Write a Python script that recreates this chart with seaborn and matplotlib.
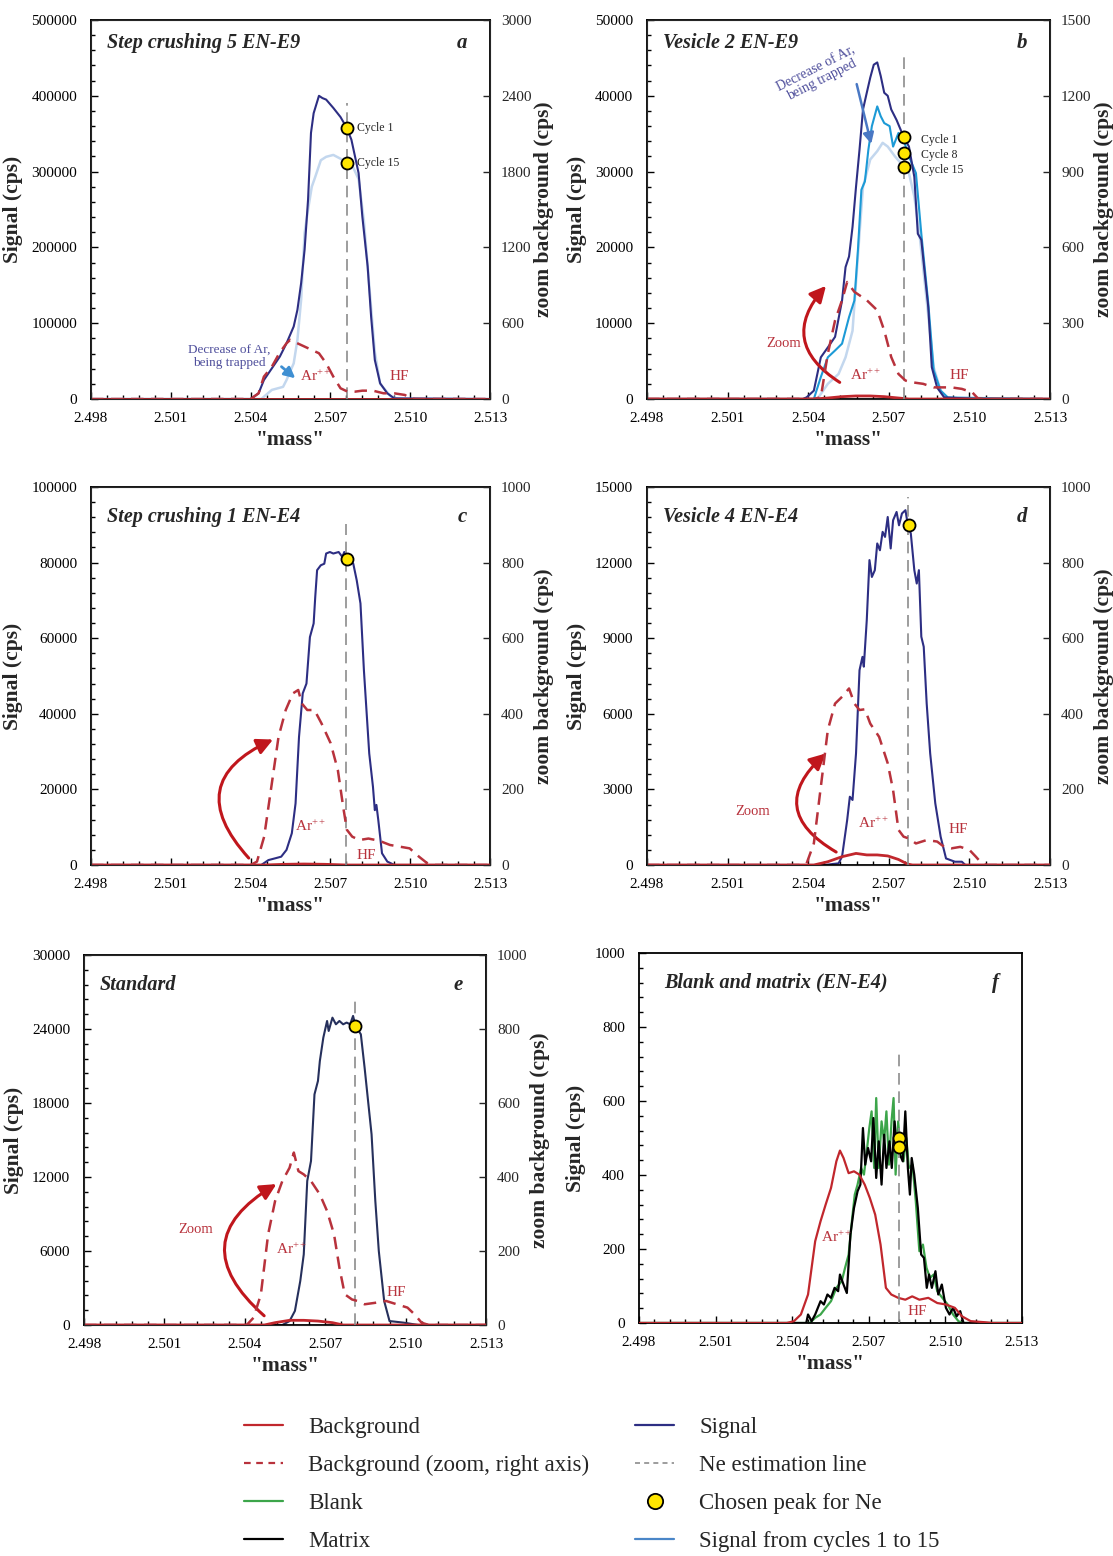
import matplotlib
matplotlib.use("Agg")
import matplotlib.pyplot as plt
from matplotlib.ticker import AutoMinorLocator, MultipleLocator, FixedLocator, FormatStrFormatter
from matplotlib.lines import Line2D
import seaborn as sns

# ---------------- data ----------------
XLIM = (2.498, 2.513)
x_ticks = [2.498, 2.501, 2.504, 2.507, 2.510, 2.513]

# a  Step crushing 5 EN-E9
a_sig_x = [2.498, 2.5040, 2.5043, 2.5045, 2.5051, 2.50535, 2.50562, 2.50576, 2.5059, 2.50603, 2.50616,
           2.50627, 2.50637, 2.50657, 2.5067, 2.50684, 2.50711, 2.50738, 2.50761, 2.50779, 2.50806,
           2.5082, 2.5084, 2.50853, 2.50867, 2.50887, 2.50914, 2.5094, 2.513]
a_sig_y = [0, 0, 7500, 25000, 56000, 73500, 95600, 117600, 153000, 197000, 263000, 351000, 377000,
           400000, 397000, 395000, 384000, 372000, 358000, 342000, 298000, 241000, 175000, 109000,
           51500, 20700, 7500, 900, 0]
a_c15_x = [2.498, 2.5044, 2.5048, 2.50522, 2.50535, 2.50562, 2.50576, 2.5059, 2.50603, 2.50616, 2.5063,
           2.50643, 2.50664, 2.50684, 2.50711, 2.50738, 2.50761, 2.50785, 2.50806, 2.50826, 2.50846,
           2.50867, 2.50887, 2.50928, 2.50955, 2.513]
a_c15_y = [0, 0, 12000, 16000, 25000, 47000, 78000, 131000, 219000, 250000, 280000, 293000, 315000,
           319500, 322000, 317000, 311000, 306000, 290000, 235000, 150000, 62000, 20000, 3000, 0, 0]
a_bgz_x = [2.498, 2.5040, 2.5043, 2.5045, 2.5048, 2.50508, 2.50535, 2.50549, 2.50576, 2.50616, 2.50657,
           2.50684, 2.50711, 2.50738, 2.50765, 2.50792, 2.5082, 2.5086, 2.509, 2.5094, 2.5098, 2.5100,
           2.5102, 2.513]
a_bgz_y = [0, 0, 45, 177, 256, 362, 441, 468, 441, 402, 362, 283, 177, 85, 58, 58, 66, 66, 45, 45, 32,
           5, 0, 0]
a_bg_x = [2.498, 2.513]
a_bg_y = [0, 0]

# b  Vesicle 2 EN-E9
b_sig_x = [2.498, 2.5038, 2.50394, 2.50421, 2.50447, 2.50473, 2.505, 2.50526, 2.50539, 2.50552, 2.50565,
           2.50578, 2.50591, 2.50604, 2.50618, 2.50631, 2.50644, 2.50657, 2.5067, 2.50683, 2.50696,
           2.50709, 2.50729, 2.50755, 2.50775, 2.50795, 2.50808, 2.50821, 2.50834, 2.50847, 2.5086,
           2.5088, 2.50906, 2.51024, 2.513]
b_sig_y = [0, 0, 220, 1100, 5500, 6800, 8200, 13000, 17400, 18800, 22700, 28000, 32900, 38200, 40400,
           42400, 44100, 44400, 42600, 40400, 40000, 38200, 36800, 34600, 33300, 29300, 21800, 21000,
           16500, 12100, 4200, 1500, 220, 0, 0]
b_c8_x = [2.498, 2.50421, 2.50447, 2.50473, 2.505, 2.50526, 2.50552, 2.50572, 2.50585, 2.50598, 2.50611,
          2.50624, 2.50637, 2.50657, 2.5067, 2.50683, 2.50703, 2.50716, 2.50736, 2.50755, 2.50775,
          2.50801, 2.50821, 2.50847, 2.50867, 2.50893, 2.5092, 2.513]
b_c8_y = [0, 0, 2900, 5500, 6400, 7300, 10800, 13000, 19600, 27600, 28700, 32900, 36000, 38600, 37300,
          36400, 36000, 33300, 35100, 34200, 32000, 29800, 21800, 12600, 3800, 1100, 200, 0]
b_c15_x = [2.498, 2.50434, 2.50473, 2.50513, 2.50539, 2.50565, 2.50591, 2.50604, 2.50631, 2.50657,
           2.50677, 2.50696, 2.50723, 2.50755, 2.50775, 2.50795, 2.50814, 2.50841, 2.50867, 2.50893,
           2.5092, 2.513]
b_c15_y = [0, 0, 2000, 3300, 5500, 9000, 21800, 28000, 31600, 32700, 33800, 33300, 32000, 30700, 29800,
           26700, 21800, 13000, 4200, 1100, 0, 0]
b_bgz_x = [2.498, 2.5042, 2.50447, 2.50473, 2.505, 2.50526, 2.50545, 2.50572, 2.50618, 2.50657, 2.50683,
           2.50709, 2.50736, 2.50762, 2.50788, 2.50828, 2.50867, 2.50906, 2.50933, 2.50972, 2.51011,
           2.51031, 2.5105, 2.513]
b_bgz_y = [0, 0, 7, 179, 311, 391, 463, 424, 391, 351, 271, 166, 99, 73, 66, 60, 46, 46, 46, 40, 26, 3,
           0, 0]
b_bg_x = [2.498, 2.50421, 2.50473, 2.50526, 2.50578, 2.50631, 2.50683, 2.50736, 2.50775, 2.513]
b_bg_y = [0, 0, 130, 310, 400, 400, 310, 130, 0, 0]

# c  Step crushing 1 EN-E4
c_sig_x = [2.498, 2.5044, 2.50467, 2.50494, 2.50515, 2.50535, 2.50555, 2.50569, 2.50582, 2.50596,
           2.5061, 2.50623, 2.50637, 2.50643, 2.5065, 2.50664, 2.50677, 2.50684, 2.50698, 2.50711,
           2.50731, 2.50745, 2.50752, 2.50765, 2.50786, 2.50799, 2.50813, 2.50826, 2.50846, 2.5086,
           2.50867, 2.50873, 2.5088, 2.50894, 2.50914, 2.50941, 2.513]
c_sig_y = [0, 0, 1300, 1800, 2200, 4000, 8400, 16300, 33900, 45400, 48000, 60300, 63900, 70900, 78000,
           79300, 79700, 82400, 82800, 82400, 82800, 81500, 82800, 81500, 79700, 75300, 69200, 51500,
           29500, 20700, 14500, 15900, 11900, 3100, 900, 0, 0]
c_bgz_x = [2.498, 2.5040, 2.50424, 2.50451, 2.50478, 2.50505, 2.50532, 2.50559, 2.50579, 2.50593,
           2.50613, 2.5064, 2.50667, 2.50701, 2.50728, 2.50748, 2.50762, 2.50782, 2.50809, 2.50843,
           2.50884, 2.50924, 2.50965, 2.50998, 2.51033, 2.51067, 2.51094, 2.513]
c_bgz_y = [0, 0, 9, 75, 207, 339, 410, 454, 463, 427, 410, 410, 374, 322, 251, 154, 93, 75, 66, 70, 64,
           53, 48, 44, 22, 3, 0, 0]
c_bg_x = [2.498, 2.5045, 2.5053, 2.5060, 2.5068, 2.5076, 2.513]
c_bg_y = [0, 0, 180, 260, 180, 0, 0]

# d  Vesicle 4 EN-E4
d_sig_x = [2.498, 2.5046, 2.50513, 2.50526, 2.50545, 2.50555, 2.50565, 2.50578, 2.50591, 2.50602,
           2.50607, 2.50618, 2.50628, 2.50637, 2.50648, 2.50657, 2.50667, 2.50677, 2.50686, 2.50696,
           2.50707, 2.50716, 2.50729, 2.50738, 2.50749, 2.50762, 2.50771, 2.50782, 2.50795, 2.50804,
           2.50812, 2.50821, 2.5083, 2.50841, 2.50854, 2.50873, 2.50893, 2.50913, 2.50946, 2.50972,
           2.50985, 2.513]
d_sig_y = [0, 0, 66, 330, 1780, 2710, 2580, 4430, 7730, 8260, 7870, 9720, 12100, 11430, 11700, 12760,
           12490, 13220, 13020, 13810, 12560, 13680, 14010, 13480, 13950, 14080, 13480, 13150, 11700,
           11170, 11700, 9060, 8660, 6410, 4430, 2450, 1120, 260, 130, 130, 0, 0]
d_bgz_x = [2.498, 2.5037, 2.50394, 2.50421, 2.50447, 2.50473, 2.505, 2.50526, 2.50552, 2.50572, 2.50591,
           2.50611, 2.50631, 2.50664, 2.50696, 2.50716, 2.50736, 2.50755, 2.50775, 2.50801, 2.50841,
           2.5088, 2.50906, 2.50933, 2.50966, 2.51, 2.51024, 2.51044, 2.51064, 2.513]
d_bgz_y = [0, 0, 4, 57, 207, 357, 427, 445, 467, 427, 410, 412, 374, 339, 269, 198, 93, 75, 70, 57, 66,
           62, 48, 44, 48, 40, 22, 6, 0, 0]
d_bg_x = [2.498, 2.50421, 2.50473, 2.50526, 2.50578, 2.50618, 2.50657, 2.50696, 2.50736, 2.50769,
          2.50788, 2.513]
d_bg_y = [0, 0, 130, 330, 460, 400, 400, 360, 220, 40, 0, 0]

# e  Standard
e_sig_x = [2.498, 2.5054, 2.50567, 2.50587, 2.50607, 2.5062, 2.50633, 2.50647, 2.5066, 2.50673, 2.5068,
           2.50693, 2.50707, 2.50713, 2.50727, 2.5074, 2.50753, 2.50767, 2.5078, 2.50793, 2.50804,
           2.50813, 2.50833, 2.50847, 2.5086, 2.50873, 2.50887, 2.509, 2.5092, 2.5094, 2.50993,
           2.51047, 2.513]
e_sig_y = [0, 0, 320, 1140, 3570, 5730, 11680, 13300, 18700, 19790, 21400, 23300, 24650, 23840, 24920,
           24380, 24650, 24380, 24520, 24380, 25060, 24250, 23570, 20870, 18160, 15460, 10060, 6000,
           1950, 320, 190, 0, 0]
e_bgz_x = [2.498, 2.50407, 2.50433, 2.5046, 2.50487, 2.50513, 2.5054, 2.50567, 2.50583, 2.506, 2.5062,
           2.50647, 2.5068, 2.50707, 2.50733, 2.50753, 2.50773, 2.508, 2.5082, 2.50847, 2.50887,
           2.50927, 2.50967, 2.51007, 2.51033, 2.5106, 2.51087, 2.513]
e_bgz_y = [0, 0, 20, 83, 245, 335, 389, 425, 466, 416, 407, 389, 353, 308, 245, 155, 83, 69, 65, 56, 60,
           65, 56, 47, 29, 6, 0, 0]
e_bg_x = [2.498, 2.50473, 2.50513, 2.50567, 2.5062, 2.50673, 2.50727, 2.50767, 2.513]
e_bg_y = [0, 0, 190, 380, 380, 320, 190, 0, 0]

# f  Blank and matrix (EN-E4)
f_bg_x = [2.498, 2.50379, 2.50407, 2.50434, 2.50462, 2.50476, 2.5049, 2.50511, 2.50531, 2.50552,
          2.50573, 2.50587, 2.50601, 2.50621, 2.50642, 2.50663, 2.50684, 2.50704, 2.50725, 2.50746,
          2.50767, 2.50788, 2.50815, 2.50843, 2.5087, 2.50898, 2.50933, 2.50968, 2.51002, 2.51037,
          2.51065, 2.51099, 2.51155, 2.51182, 2.513]
f_bg_y = [0, 0, 5, 23, 77, 149, 221, 275, 320, 365, 437, 466, 446, 405, 410, 401, 374, 338, 293, 212,
          95, 77, 68, 63, 72, 63, 68, 54, 50, 41, 18, 5, 2, 0, 0]
f_mat_x = [2.498, 2.50455, 2.50462, 2.50476, 2.5049, 2.50511, 2.50524, 2.50538, 2.50552, 2.50566, 2.5058,
           2.50587, 2.50601, 2.50614, 2.50628, 2.50642, 2.50656, 2.50667, 2.50677, 2.50686, 2.50697,
           2.50709, 2.50718, 2.50729, 2.50739, 2.5075, 2.5076, 2.50769, 2.50781, 2.5079, 2.50801,
           2.50811, 2.50822, 2.50833, 2.50843, 2.50853, 2.50861, 2.50868, 2.50878, 2.50892, 2.50905,
           2.50916, 2.50927, 2.50936, 2.50947, 2.50961, 2.50972, 2.50986, 2.51002, 2.51016, 2.5103,
           2.51044, 2.51058, 2.51071, 2.513]
f_mat_y = [0, 0, 23, 5, 23, 59, 50, 77, 68, 95, 86, 131, 104, 81, 239, 311, 356, 374, 527, 428, 473, 437,
           554, 392, 491, 374, 509, 419, 491, 419, 545, 464, 455, 437, 572, 419, 347, 446, 401, 311, 185,
           176, 95, 131, 95, 140, 77, 104, 41, 23, 41, 18, 32, 0, 0]
f_blk_x = [2.498, 2.50469, 2.5049, 2.50511, 2.50531, 2.50552, 2.50573, 2.50594, 2.50607, 2.50621,
           2.50635, 2.50645, 2.50656, 2.5067, 2.50681, 2.50692, 2.50702, 2.50711, 2.50721, 2.50729,
           2.50739, 2.5075, 2.5076, 2.50769, 2.50779, 2.50789, 2.50797, 2.50805, 2.50815, 2.50825,
           2.50836, 2.50847, 2.50857, 2.50871, 2.50884, 2.50898, 2.50912, 2.50926, 2.5094, 2.50954,
           2.50968, 2.50988, 2.51009, 2.5103, 2.51051, 2.51065, 2.513]
f_blk_y = [0, 0, 14, 23, 41, 59, 95, 113, 149, 185, 284, 347, 374, 419, 401, 464, 527, 572, 419, 608,
           419, 545, 491, 572, 428, 545, 608, 401, 545, 464, 437, 500, 419, 428, 329, 194, 212, 149, 122,
           131, 86, 68, 50, 23, 5, 0, 0]

# Ne estimation lines (x position, top of the dashed line) and chosen peaks
est_x = [2.50761, 2.50755, 2.50758, 2.50771, 2.50811, 2.50819]
est_top = [390000, 45900, 90300, 14600, 26300, 734]
a_dot_x, a_dot_y = [2.50761, 2.50761], [358000, 311000]
b_dot_x, b_dot_y = [2.50755, 2.50755, 2.50755], [34550, 32500, 30670]
c_dot_x, c_dot_y = [2.50762], [81000]
d_dot_x, d_dot_y = [2.50774], [13480]
e_dot_x, e_dot_y = [2.50813], [24250]
f_dot_x, f_dot_y = [2.50819, 2.50819], [500, 477]

titles = ["Step crushing 5 EN-E9", "Vesicle 2 EN-E9", "Step crushing 1 EN-E4",
          "Vesicle 4 EN-E4", "Standard", "Blank and matrix (EN-E4)"]
letters = ["a", "b", "c", "d", "e", "f"]
left_max = [500000, 50000, 100000, 15000, 30000, 1000]
left_step = [100000, 10000, 20000, 3000, 6000, 200]
right_max = [3000, 1500, 1000, 1000, 1000, None]
right_step = [600, 300, 200, 200, 200, None]

# ---------------- style ----------------
sns.set_style("ticks")
plt.rcParams['font.family'] = ['Liberation Serif', 'DejaVu Serif']
plt.rcParams['mathtext.fontset'] = 'custom'
plt.rcParams['mathtext.rm'] = 'Liberation Serif'
plt.rcParams['mathtext.it'] = 'Liberation Serif:italic'
plt.rcParams['mathtext.bf'] = 'Liberation Serif:bold'

NAVY = '#2d2e83'
NAVY_E = '#26305c'
RED = '#c1272d'
RED_D = '#b8323c'
LIGHT = '#c3d7ee'
MID = '#1c9ad6'
GREEN = '#3ca54a'
GREY = '#8c8c8c'
SLATE = '#4f4f9c'
ARROW_RED = '#c0161c'

fig = plt.figure(figsize=(11.13, 15.56), dpi=100)
W, H = 1113, 1556
# pixel boxes: left, right, top, bottom
boxes = [(91, 490, 20, 399), (647, 1050, 20, 399),
         (91, 490, 487, 865), (647, 1050, 487, 865),
         (84, 486, 955, 1325), (639, 1022, 953, 1323)]

axes, twins = [], []
for i, (l, r, t, b) in enumerate(boxes):
    ax = fig.add_axes([l / W, 1 - b / H, (r - l) / W, (b - t) / H])
    ax.set_xlim(*XLIM)
    ax.set_ylim(0, left_max[i])
    ax.xaxis.set_major_locator(FixedLocator(x_ticks))
    ax.xaxis.set_major_formatter(FormatStrFormatter('%.3f'))
    ax.xaxis.set_minor_locator(AutoMinorLocator(5))
    ax.yaxis.set_major_locator(MultipleLocator(left_step[i]))
    ax.yaxis.set_minor_locator(AutoMinorLocator(5))
    ax.tick_params(which='both', direction='in', labelsize=11, width=1, colors='black')
    ax.tick_params(which='major', length=5)
    ax.tick_params(which='minor', length=3)
    ax.tick_params(axis='y', pad=10)
    ax.tick_params(axis='x', pad=9)
    for s in ax.spines.values():
        s.set_linewidth(1.3)
        s.set_color('black')
    ax.set_xlabel('"mass"', fontsize=15.5, fontweight='bold', labelpad=4)
    ax.set_ylabel('Signal (cps)', fontsize=15.5, fontweight='bold', labelpad=6)
    ax.text(0.04 if i != 5 else 0.065, 0.94 if i < 2 else 0.92, titles[i], transform=ax.transAxes,
            fontsize=14.5, fontweight='bold', fontstyle='italic', va='center', ha='left')
    ax.text(0.93, 0.94 if i < 2 else 0.92, letters[i], transform=ax.transAxes,
            fontsize=15, fontweight='bold', fontstyle='italic', va='center', ha='center')
    tw = None
    if right_max[i] is not None:
        tw = ax.twinx()
        tw.set_ylim(0, right_max[i])
        tw.yaxis.set_major_locator(MultipleLocator(right_step[i]))
        tw.tick_params(direction='in', labelsize=11, length=5, width=1, pad=8)
        tw.set_ylabel('zoom background (cps)', fontsize=15.5, fontweight='bold', labelpad=2)
    axes.append(ax)
    twins.append(tw)


def line(ax, x, y, color, ls='-', lw=1.5, z=2):
    sns.lineplot(x=x, y=y, ax=ax, color=color, linestyle=ls, linewidth=lw,
                 estimator=None, sort=False, zorder=z)


def dots(ax, x, y):
    sns.scatterplot(x=x, y=y, ax=ax, s=75, color='#ffe600', edgecolor='black',
                    linewidth=1.3, zorder=6)


DASH = (0, (5, 3))

# a
ax, tw = axes[0], twins[0]
line(ax, a_c15_x, a_c15_y, LIGHT, lw=1.8)
line(ax, a_sig_x, a_sig_y, NAVY)
line(ax, a_bg_x, a_bg_y, RED, lw=2, z=3)
line(tw, a_bgz_x, a_bgz_y, RED_D, ls=DASH, lw=1.8)
dots(ax, a_dot_x, a_dot_y)

# b
ax, tw = axes[1], twins[1]
line(ax, b_c15_x, b_c15_y, LIGHT, lw=1.8)
line(ax, b_c8_x, b_c8_y, MID)
line(ax, b_sig_x, b_sig_y, NAVY)
line(ax, b_bg_x, b_bg_y, RED, lw=2, z=3)
line(tw, b_bgz_x, b_bgz_y, RED_D, ls=DASH, lw=1.8)
dots(ax, b_dot_x, b_dot_y)

# c
ax, tw = axes[2], twins[2]
line(ax, c_sig_x, c_sig_y, NAVY)
line(ax, c_bg_x, c_bg_y, RED, lw=2, z=3)
line(tw, c_bgz_x, c_bgz_y, RED_D, ls=DASH, lw=1.8)
dots(ax, c_dot_x, c_dot_y)

# d
ax, tw = axes[3], twins[3]
line(ax, d_sig_x, d_sig_y, NAVY)
line(ax, d_bg_x, d_bg_y, RED, lw=2, z=3)
line(tw, d_bgz_x, d_bgz_y, RED_D, ls=DASH, lw=1.8)
dots(ax, d_dot_x, d_dot_y)

# e
ax, tw = axes[4], twins[4]
line(ax, e_sig_x, e_sig_y, NAVY_E)
line(ax, e_bg_x, e_bg_y, RED, lw=2, z=3)
line(tw, e_bgz_x, e_bgz_y, RED_D, ls=DASH, lw=1.8)
dots(ax, e_dot_x, e_dot_y)

# f
ax = axes[5]
line(ax, f_blk_x, f_blk_y, GREEN, lw=1.6)
line(ax, f_mat_x, f_mat_y, 'black', lw=1.6)
line(ax, f_bg_x, f_bg_y, RED, lw=1.6, z=3)
dots(ax, f_dot_x, f_dot_y)

# estimation lines
for ax, ex, et in zip(axes, est_x, est_top):
    ax.plot([ex, ex], [0, et], color=GREY, linestyle=(0, (7, 4)), linewidth=1.2, zorder=4)

# ---------------- annotations ----------------
sup = 'Ar$^{\\mathrm{++}}$'
ax = axes[0]
ax.text(2.50799, 358000, 'Cycle 1', fontsize=8.5, va='center')
ax.text(2.50799, 311000, 'Cycle 15', fontsize=8.5, va='center')
ax.text(2.50321, 56000, 'Decrease of Ar,\nbeing trapped', fontsize=9.5, color=SLATE,
        ha='center', va='center', linespacing=1.0)
ax.annotate('', xy=(2.50576, 25000), xytext=(2.50508, 45000),
            arrowprops=dict(arrowstyle='-|>', color='#3f8fd2', lw=2, mutation_scale=16))
ax.text(2.50586, 29500, sup, fontsize=11, color=RED_D, va='center')
ax.text(2.50921, 29500, 'HF', fontsize=11, color=RED_D, va='center')

ax = axes[1]
ax.text(2.50821, 34200, 'Cycle 1', fontsize=8.5, va='center')
ax.text(2.50821, 32200, 'Cycle 8', fontsize=8.5, va='center')
ax.text(2.50821, 30200, 'Cycle 15', fontsize=8.5, va='center')
ax.text(2.5044, 42800, 'Decrease of Ar,\nbeing trapped', fontsize=10, color=SLATE,
        ha='center', va='center', rotation=27, linespacing=1.0)
ax.annotate('', xy=(2.50637, 33300), xytext=(2.50578, 41900),
            arrowprops=dict(arrowstyle='-|>', color='#4a78c4', lw=1.8, mutation_scale=16))
ax.text(2.50307, 7300, 'Zoom', fontsize=10.5, color=RED_D, ha='center', va='center')
ax.annotate('', xy=(2.50473, 15200), xytext=(2.50526, 2000),
            arrowprops=dict(arrowstyle='-|>', color=ARROW_RED, lw=2.2, mutation_scale=24,
                            connectionstyle='arc3,rad=-0.6'))
ax.text(2.50555, 3100, sup, fontsize=11, color=RED_D, va='center')
ax.text(2.50926, 3100, 'HF', fontsize=11, color=RED_D, va='center')

ax = axes[2]
ax.annotate('', xy=(2.50494, 33500), xytext=(2.50400, 1300),
            arrowprops=dict(arrowstyle='-|>', color=ARROW_RED, lw=2.2, mutation_scale=24,
                            connectionstyle='arc3,rad=-0.7'))
ax.text(2.50568, 10100, sup, fontsize=11, color=RED_D, va='center')
ax.text(2.50799, 2640, 'HF', fontsize=11, color=RED_D, va='center')

ax = axes[3]
ax.text(2.50195, 2115, 'Zoom', fontsize=10.5, color=RED_D, ha='center', va='center')
ax.annotate('', xy=(2.50473, 4500), xytext=(2.50513, 460),
            arrowprops=dict(arrowstyle='-|>', color=ARROW_RED, lw=2.2, mutation_scale=24,
                            connectionstyle='arc3,rad=-0.7'))
ax.text(2.50585, 1650, sup, fontsize=11, color=RED_D, va='center')
ax.text(2.50923, 1390, 'HF', fontsize=11, color=RED_D, va='center')

ax = axes[4]
ax.text(2.50217, 7760, 'Zoom', fontsize=10.5, color=RED_D, ha='center', va='center')
ax.annotate('', xy=(2.50527, 11540), xytext=(2.5048, 600),
            arrowprops=dict(arrowstyle='-|>', color=ARROW_RED, lw=2.2, mutation_scale=24,
                            connectionstyle='arc3,rad=-0.7'))
ax.text(2.50516, 6140, sup, fontsize=11, color=RED_D, va='center')
ax.text(2.50929, 2620, 'HF', fontsize=11, color=RED_D, va='center')

ax = axes[5]
ax.text(2.50513, 230, sup, fontsize=11, color=RED_D, va='center')
ax.text(2.5085, 32, 'HF', fontsize=11, color=RED_D, va='center')

# ---------------- legend ----------------
handles = [
    Line2D([], [], color=RED, lw=1.6),
    Line2D([], [], color=RED_D, lw=1.6, linestyle=(0, (3, 2.5))),
    Line2D([], [], color=GREEN, lw=1.6),
    Line2D([], [], color='black', lw=1.6),
    Line2D([], [], color=NAVY, lw=1.6),
    Line2D([], [], color=GREY, lw=1.2, linestyle=(0, (3, 2.5))),
    Line2D([], [], marker='o', linestyle='none', markersize=11, markerfacecolor='#ffe600',
           markeredgecolor='black', markeredgewidth=1.3),
    Line2D([], [], color='#4a86c8', lw=1.6),
]
labels = ['Background', 'Background (zoom, right axis)', 'Blank', 'Matrix',
          'Signal', 'Ne estimation line', 'Chosen peak for Ne', 'Signal from cycles 1 to 15']
fig.legend(handles, labels, loc='upper left', bbox_to_anchor=(244 / W, 1 - 1417 / H),
           ncol=2, frameon=False, fontsize=16.5, handlelength=1.7, handletextpad=1.1,
           columnspacing=2.0, labelspacing=0.74, borderpad=0, borderaxespad=0)

fig.savefig('out.png', dpi=100)
